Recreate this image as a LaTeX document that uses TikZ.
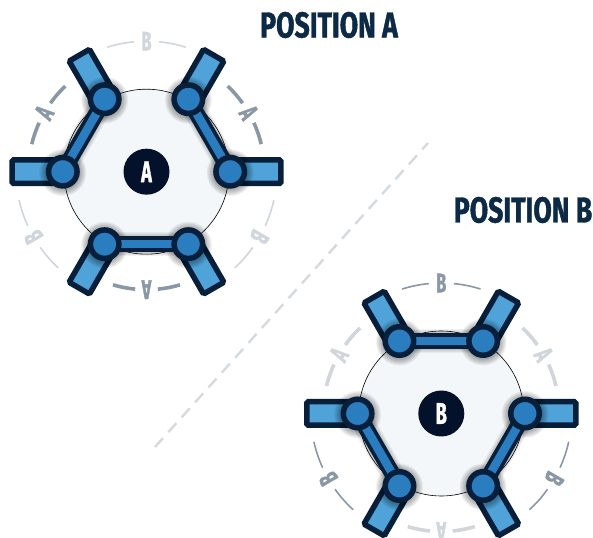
\documentclass[tikz,border=0pt]{standalone}
\usepackage{fontspec}
\setmainfont{Fira Sans}
\newfontfamily\condfont[FakeStretch=0.74,FakeBold=1.2]{Fira Sans Bold}
\newfontfamily\narrowfont[FakeStretch=0.6,FakeBold=1.2]{Fira Sans Bold}
\usetikzlibrary{calc}
\definecolor{navy}{HTML}{071F3A}
\definecolor{hubnavy}{HTML}{03112B}
\definecolor{titlenavy}{HTML}{0C2A45}
\definecolor{portblue}{HTML}{2A7DBF}
\definecolor{barblue}{HTML}{4FA3D8}
\definecolor{platefill}{HTML}{F4F7F9}
\definecolor{markdark}{HTML}{8A98A5}
\definecolor{marklight}{HTML}{D0D6DB}
\definecolor{divider}{HTML}{D5DADE}
\pgfdeclarelayer{under}
\pgfdeclarelayer{mid}
\pgfsetlayers{under,mid,main}
\tikzset{
  x=1pt,y=1pt,
  plate/.style={circle,draw=black,line width=0.6pt,fill=platefill,minimum size=165pt,inner sep=0},
  armbar/.style={rectangle,draw=navy,fill=barblue,line width=5.5pt,minimum width=54.5pt,minimum height=23.5pt,inner sep=0,rounded corners=1.5pt},
  portdot/.style={circle,draw=navy,fill=portblue,line width=5.5pt,minimum size=28.5pt,inner sep=0},
  hubdot/.style={circle,fill=hubnavy,text=white,minimum size=46pt,inner sep=0,font=\narrowfont\fontsize{30}{30}\selectfont},
  ringmark/.style={inner sep=0,font=\narrowfont\fontsize{27}{27}\selectfont},
  titletext/.style={inner sep=0,text=titlenavy,font=\condfont\fontsize{36}{36}\selectfont},
  darkring/.style={draw=markdark,text=markdark},
  lightring/.style={draw=marklight,text=marklight},
}
\newcommand\hubgroup[8]{%
  \begin{scope}[shift={#2}]
    \begin{pgfonlayer}{under}
      \node[plate] (#1plate) at (0,0) {};
      \foreach \a in {0,60,...,300} {
        \node[armbar,rotate=\a] (#1bar\a) at (\a:107.2) {};
      }
      \foreach \a in {0,60,...,300} {
        \foreach \rr in {35,37,...,47} {
          \fill[black,opacity=0.05] ($(\a:83.7)+(0,-1)$) circle[radius=\rr/2];
        }
      }
    \end{pgfonlayer}
    \foreach \a in {0,60,...,300} {
      \node[portdot] (#1p\a) at (\a:83.7) {};
    }
    \begin{pgfonlayer}{mid}
      \foreach \u/\v in {#4} {
        \foreach \w in {18,20,22,24} {
          \draw[black,opacity=0.05,line width=\w pt] (#1p\u.center) -- (#1p\v.center);
        }
        \draw[navy,line width=16pt] (#1p\u.center) -- (#1p\v.center);
        \draw[portblue,line width=8.5pt] (#1p\u.center) -- (#1p\v.center);
      }
    \end{pgfonlayer}
    \node[hubdot] (#1hub) at (0,0) {#3};
    \foreach \a in {30,150,270} {
      \draw[#5,line width=#6pt] (\a+5.5:118) arc[start angle=\a+5.5,end angle=\a+16.5,radius=118];
      \draw[#5,line width=#6pt] (\a-5.5:118) arc[start angle=\a-5.5,end angle=\a-16.5,radius=118];
      \node[ringmark,#5,draw=none,rotate=\a-90] (#1markA\a) at (\a:118) {A};
    }
    \foreach \a in {90,210,330} {
      \draw[#7,line width=#8pt] (\a+5.5:130.5) arc[start angle=\a+5.5,end angle=\a+17.5,radius=130.5];
      \draw[#7,line width=#8pt] (\a-5.5:130.5) arc[start angle=\a-5.5,end angle=\a-17.5,radius=130.5];
      \node[ringmark,#7,draw=none,rotate=\a-90] (#1markB\a) at (\a:130.5) {B};
    }
  \end{scope}%
}
\begin{document}
\begin{tikzpicture}
\useasboundingbox (0,0) rectangle (593,537);
\hubgroup{a}{(146.5,365.3)}{A}{120/180,60/0,240/300}{darkring}{3.6}{lightring}{1.6}
\hubgroup{b}{(441.3,123.5)}{B}{60/120,180/240,0/300}{lightring}{3.6}{darkring}{1.6}
\coordinate (divstart) at (155,90);
\coordinate (divend) at (428,394);
\draw[divider,line width=2.4pt,dash pattern=on 12pt off 8pt] (divstart) -- (divend);
\node[titletext] (titleA) at (329,512) {POSITION A};
\node[titletext] (titleB) at (523,327) {POSITION B};
\end{tikzpicture}
\end{document}
